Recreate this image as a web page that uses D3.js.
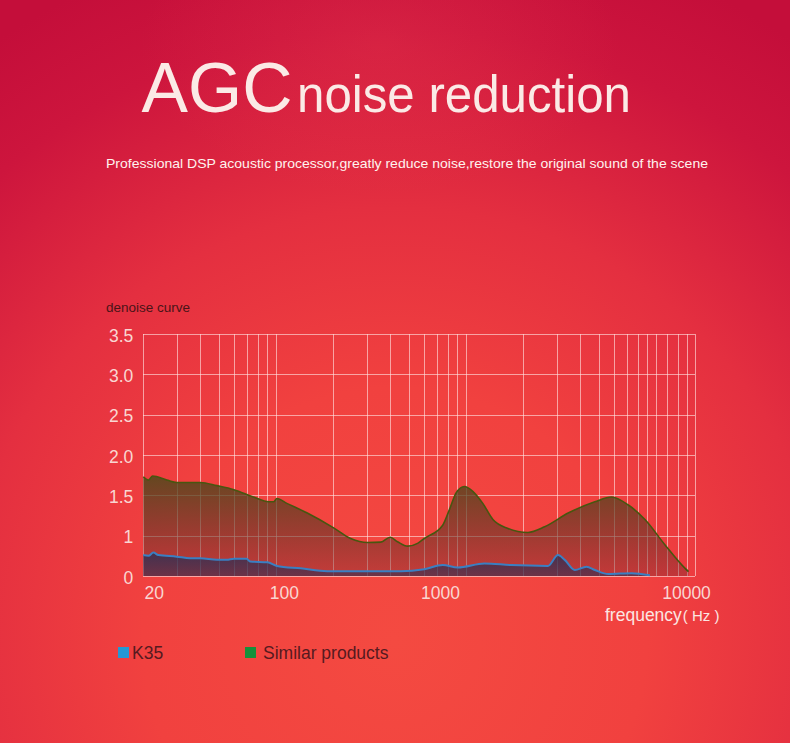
<!DOCTYPE html>
<html><head><meta charset="utf-8">
<script src="https://cdn.jsdelivr.net/npm/d3@7"></script>
<style>html,body{margin:0;padding:0;background:#c80f3c;overflow:hidden}svg{display:block}</style>
</head><body><svg id="c" width="790" height="743"></svg>
<script>
// ---------- data ----------
const titleMain = "AGC";
const titleRest = "noise reduction";
const subtitle = "Professional DSP acoustic processor,greatly reduce noise,restore the original sound of the scene";
const yAxisTitle = "denoise curve";
const xAxisTitle = "frequency";
const xAxisUnit = "( Hz )";
const seriesNames = ["K35", "Similar products"];
const seriesColors = ["#2398d4", "#15903b"];
const yTickValues = [0, 1, 1.5, 2, 2.5, 3, 3.5];
const yTickLabels = ["0", "1", "1.5", "2.0", "2.5", "3.0", "3.5"];
const xTickLabels = ["20", "100", "1000", "10000"];
const xTickAnchors = [22.7, 110, 730, 14400];
const xGridValues = [20, 30, 40, 50, 60, 70, 80, 90, 100,
  200, 300, 400, 500, 600, 700, 800, 900, 1000,
  2000, 3000, 4000, 5000, 6000, 7000, 8000, 9000, 10000,
  11400, 13000, 14500, 16000];
const similarFreq = [20, 21.3, 22.4, 26.6, 30, 40, 48.8, 60, 76, 91.5, 97, 101, 114, 146, 200, 247, 303, 356, 399, 436, 493, 556, 603, 754, 817, 887, 980, 1086, 1226, 1386, 1662, 2120, 2594, 3450, 4768, 5840, 7157, 8756, 11170, 14240, 14850];
const similarValue = [1.73, 1.69, 1.74, 1.69, 1.66, 1.66, 1.62, 1.57, 1.48, 1.42, 1.42, 1.46, 1.40, 1.28, 1.10, 0.93, 0.83, 0.84, 0.96, 0.85, 0.74, 0.81, 0.93, 1.13, 1.32, 1.53, 1.61, 1.55, 1.40, 1.20, 1.09, 1.04, 1.11, 1.28, 1.42, 1.48, 1.38, 1.20, 0.77, 0.19, 0.11];
const k35Freq = [20, 21.3, 22.6, 24, 30, 35.3, 40, 48.8, 55, 60, 70, 73, 90, 101, 135, 186, 303, 454, 603, 754, 905, 1250, 1730, 2700, 3050, 3310, 3740, 4310, 4770, 5610, 7450, 9300];
const k35Value = [0.52, 0.50, 0.58, 0.52, 0.48, 0.44, 0.44, 0.40, 0.40, 0.43, 0.43, 0.36, 0.34, 0.25, 0.19, 0.12, 0.12, 0.12, 0.17, 0.27, 0.21, 0.31, 0.27, 0.25, 0.52, 0.40, 0.15, 0.23, 0.15, 0.05, 0.07, 0.02];

// ---------- layout ----------
const W = 790, H = 743;
const plot = {left: 143.3, right: 694.7, top: 334, bottom: 576};
const FONT = "Arial, 'Liberation Sans', Helvetica, sans-serif";

const svg = d3.select("#c");
const defs = svg.append("defs");

// background
const bg = defs.append("radialGradient").attr("id", "bg")
  .attr("gradientUnits", "userSpaceOnUse").attr("cx", 395).attr("cy", 640).attr("r", 720);
[[0, "#f44a41"], [0.35, "#f1413f"], [0.6, "#e42f40"], [0.85, "#cd153d"], [1, "#c40e3a"]]
  .forEach(([o, c]) => bg.append("stop").attr("offset", o).attr("stop-color", c));
const glow = defs.append("radialGradient").attr("id", "glow")
  .attr("gradientUnits", "userSpaceOnUse").attr("cx", 380).attr("cy", 45)
  .attr("gradientTransform", "translate(380,45) scale(1.6,1) translate(-380,-45)").attr("r", 150);
glow.append("stop").attr("offset", 0).attr("stop-color", "rgba(236,64,80,0.28)");
glow.append("stop").attr("offset", 1).attr("stop-color", "rgba(236,64,80,0)");
svg.append("rect").attr("width", W).attr("height", H).attr("fill", "url(#bg)");
svg.append("rect").attr("width", W).attr("height", H).attr("fill", "url(#glow)");

// title
const t = svg.append("text").attr("y", 111.7).attr("fill", "#fbeae6").attr("font-family", FONT);
t.append("tspan").attr("x", 141.5).attr("font-size", 70).attr("textLength", 151)
  .attr("lengthAdjust", "spacingAndGlyphs").text(titleMain);
t.append("tspan").attr("x", 297).attr("font-size", 52).attr("textLength", 334)
  .attr("lengthAdjust", "spacingAndGlyphs").text(titleRest);

svg.append("text").attr("x", 106).attr("y", 168).attr("fill", "#fff3ef")
  .attr("font-family", FONT).attr("font-size", 13.5)
  .attr("textLength", 602).attr("lengthAdjust", "spacingAndGlyphs").text(subtitle);

// scales
const x = d3.scaleLog().domain([20, 16000]).range([plot.left, plot.right]);
const y = d3.scaleLinear().domain(yTickValues)
  .range(yTickValues.map((d, i) => plot.bottom - i * (plot.bottom - plot.top) / (yTickValues.length - 1)));

// grid
const gridColor = "rgba(255,228,226,0.62)";
const gx = svg.append("g").attr("transform", `translate(0,${plot.bottom})`)
  .call(d3.axisBottom(x).tickValues(xGridValues).tickSize(-(plot.bottom - plot.top)).tickFormat(""));
const gy = svg.append("g").attr("transform", `translate(${plot.left},0)`)
  .call(d3.axisLeft(y).tickValues(yTickValues).tickSize(-(plot.right - plot.left)).tickFormat(""));
[gx, gy].forEach(g => {
  g.select(".domain").remove();
  g.selectAll(".tick line").attr("stroke", gridColor).attr("stroke-width", 1).attr("shape-rendering", "crispEdges");
});

// area gradients
const gGreen = defs.append("linearGradient").attr("id", "gGreen")
  .attr("gradientUnits", "userSpaceOnUse").attr("x1", 0).attr("x2", 0).attr("y1", 474).attr("y2", plot.bottom);
gGreen.append("stop").attr("offset", 0).attr("stop-color", "rgb(74,74,26)").attr("stop-opacity", 0.85);
gGreen.append("stop").attr("offset", 0.55).attr("stop-color", "rgb(95,55,38)").attr("stop-opacity", 0.6);
gGreen.append("stop").attr("offset", 1).attr("stop-color", "rgb(110,40,45)").attr("stop-opacity", 0.35);
const gBlue = defs.append("linearGradient").attr("id", "gBlue")
  .attr("gradientUnits", "userSpaceOnUse").attr("x1", 0).attr("x2", 0).attr("y1", 550).attr("y2", plot.bottom);
gBlue.append("stop").attr("offset", 0).attr("stop-color", "rgb(35,48,88)").attr("stop-opacity", 0.8);
gBlue.append("stop").attr("offset", 1).attr("stop-color", "rgb(50,45,80)").attr("stop-opacity", 0.6);

const similar = similarFreq.map((f, i) => ({f, v: similarValue[i]}));
const k35 = k35Freq.map((f, i) => ({f, v: k35Value[i]}));
const curve = d3.curveMonotoneX;
const area = d3.area().x(d => x(d.f)).y0(y(0)).y1(d => y(d.v)).curve(curve);
const line = d3.line().x(d => x(d.f)).y(d => y(d.v)).curve(curve);

svg.append("path").datum(similar).attr("d", area).attr("fill", "url(#gGreen)");
svg.append("path").datum(similar).attr("d", line).attr("fill", "none")
  .attr("stroke", "#48560f").attr("stroke-width", 1.6);
svg.append("path").datum(k35).attr("d", area).attr("fill", "url(#gBlue)");
svg.append("path").datum(k35).attr("d", line).attr("fill", "none")
  .attr("stroke", "#3a7fc2").attr("stroke-width", 2);

// axis labels
const labelColor = "#f9d6d2";
const ay = svg.append("g").attr("transform", `translate(${plot.left},0)`)
  .call(d3.axisLeft(y).tickValues(yTickValues).tickSize(0).tickPadding(10)
    .tickFormat((d, i) => yTickLabels[i]));
ay.select(".domain").remove();
ay.selectAll("text").attr("fill", labelColor).attr("font-size", 17.5).attr("font-family", FONT).attr("dy", "0.4em");

const ax = svg.append("g").attr("transform", `translate(0,${plot.bottom})`)
  .call(d3.axisBottom(x).tickValues(xTickAnchors).tickSize(0).tickPadding(11)
    .tickFormat((d, i) => xTickLabels[i]));
ax.select(".domain").remove();
ax.selectAll("text").attr("fill", labelColor).attr("font-size", 17.5).attr("font-family", FONT);

svg.append("text").attr("x", 106).attr("y", 312).attr("fill", "#4a1418")
  .attr("font-family", FONT).attr("font-size", 13.5).text(yAxisTitle);

const ft = svg.append("text").attr("x", 605).attr("y", 621).attr("fill", "#fbe6e2").attr("font-family", FONT);
ft.append("tspan").attr("font-size", 17.5).text(xAxisTitle);
ft.append("tspan").attr("font-size", 15).attr("dx", 1).text(xAxisUnit);

// legend
const legendX = [118, 245];
const lg = svg.append("g");
seriesNames.forEach((name, i) => {
  lg.append("rect").attr("x", legendX[i]).attr("y", 647).attr("width", 11).attr("height", 11)
    .attr("fill", seriesColors[i]);
  lg.append("text").attr("x", legendX[i] + (i === 0 ? 14 : 18)).attr("y", 658.5)
    .attr("fill", "#561a1f").attr("font-family", FONT).attr("font-size", 17.5).text(name);
});
</script></body></html>
